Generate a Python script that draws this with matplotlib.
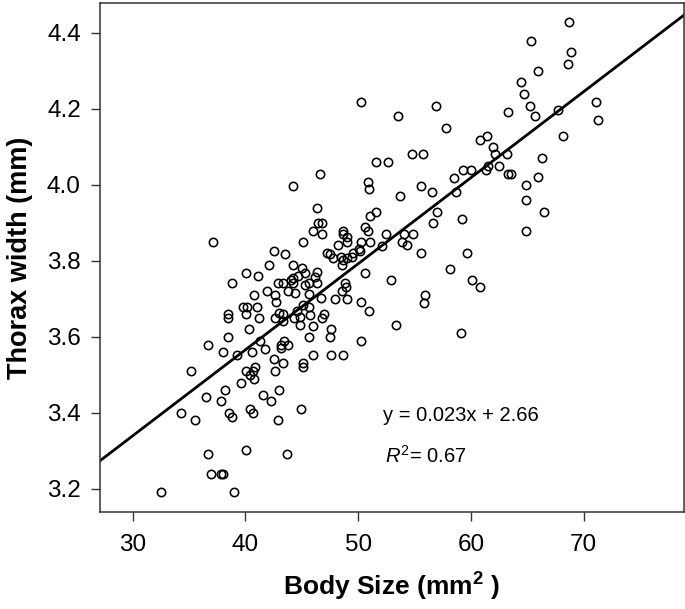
import matplotlib
matplotlib.use("Agg")
import matplotlib.pyplot as plt

plt.rcParams['font.family'] = ['Liberation Sans', 'DejaVu Sans']
plt.rcParams['mathtext.fontset'] = 'custom'
plt.rcParams['mathtext.rm'] = 'Liberation Sans'
plt.rcParams['mathtext.it'] = 'Liberation Sans:italic'
plt.rcParams['mathtext.default'] = 'regular'

# body size (mm^2) vs thorax width (mm)
body_size = [
    68.70, 65.35, 68.85, 68.61, 65.95, 64.44, 64.68, 65.24, 63.29, 65.71,
    67.69, 71.06, 71.27, 68.14, 61.93, 62.13, 63.17, 62.46, 63.31, 63.52,
    66.27, 65.95, 64.91, 64.91, 66.50, 64.91,
    56.90, 53.53, 57.81, 60.80, 61.45, 54.80, 55.72, 61.51, 61.31, 59.32,
    60.00, 58.50, 53.71, 55.57, 56.55, 58.67, 57.02, 56.66, 59.18, 54.09,
    54.83, 53.86, 54.30, 55.60, 59.68,
    50.25, 51.55, 52.67, 46.59, 50.87, 50.96, 44.24, 46.35, 46.46, 46.82,
    45.99, 46.82, 45.08, 51.07, 51.55, 50.60, 50.87, 48.65, 48.68, 49.03,
    48.98, 50.25, 51.07, 48.18, 50.04, 52.49, 52.14,
    47.26, 47.50, 47.74, 48.47, 48.62, 48.54, 48.98, 49.42, 49.56, 50.16,
    45.02, 45.31, 46.32, 46.19, 46.32, 45.61, 45.25, 50.63, 52.91, 48.80,
    48.89, 48.59, 45.66, 46.67, 47.94, 48.98, 50.25, 50.98, 45.13, 45.66,
    44.84, 45.72, 46.76, 46.97, 45.96, 44.84, 47.59, 47.50, 45.66, 50.25,
    53.38, 45.99, 47.59, 48.62, 45.08, 45.08, 44.95,
    58.14, 60.12, 60.83, 55.92, 55.84, 59.09,
    44.19, 44.19, 44.24, 44.69, 42.89, 43.29, 44.04, 42.51, 43.53, 42.06,
    40.08, 41.11, 38.81, 41.94, 40.76, 42.65, 43.77, 44.39, 42.71, 39.76,
    40.11, 41.00, 38.43, 38.43, 40.08, 41.17, 42.65, 42.95, 43.36, 43.36,
    44.31, 44.55, 40.31, 38.43, 41.29, 36.70, 43.42, 43.13, 43.13, 43.80,
    41.71, 37.98, 39.25, 40.55, 42.51, 43.30, 35.20, 40.08, 40.64, 40.87,
    40.40, 40.76, 42.65, 39.61, 38.21, 36.47, 37.86, 41.56, 42.27, 42.98,
    34.26, 38.54, 38.81, 40.40, 40.64, 35.55, 42.86, 36.70, 40.08, 43.66,
    36.94, 37.86, 37.98, 32.51, 39.01, 37.15,
]
thorax_width = [
    4.428, 4.380, 4.349, 4.318, 4.301, 4.270, 4.239, 4.208, 4.191, 4.181,
    4.198, 4.219, 4.171, 4.129, 4.099, 4.081, 4.081, 4.050, 4.029, 4.029,
    4.071, 4.020, 4.000, 3.960, 3.929, 3.878,
    4.209, 4.181, 4.149, 4.118, 4.129, 4.081, 4.081, 4.050, 4.039, 4.039,
    4.039, 4.019, 3.971, 3.998, 3.982, 3.981, 3.930, 3.899, 3.910, 3.871,
    3.871, 3.850, 3.841, 3.820, 3.820,
    4.219, 4.060, 4.060, 4.029, 4.008, 3.988, 3.998, 3.939, 3.900, 3.900,
    3.878, 3.872, 3.851, 3.919, 3.930, 3.888, 3.878, 3.878, 3.871, 3.863,
    3.850, 3.851, 3.851, 3.841, 3.831, 3.871, 3.840,
    3.821, 3.818, 3.808, 3.809, 3.802, 3.789, 3.807, 3.809, 3.821, 3.827,
    3.782, 3.769, 3.770, 3.757, 3.743, 3.741, 3.736, 3.769, 3.751, 3.742,
    3.730, 3.721, 3.712, 3.703, 3.699, 3.699, 3.691, 3.668, 3.684, 3.678,
    3.653, 3.657, 3.650, 3.659, 3.629, 3.631, 3.620, 3.600, 3.600, 3.589,
    3.631, 3.551, 3.551, 3.551, 3.530, 3.521, 3.410,
    3.778, 3.751, 3.730, 3.710, 3.690, 3.610,
    3.789, 3.756, 3.743, 3.761, 3.741, 3.741, 3.749, 3.827, 3.818, 3.788,
    3.768, 3.761, 3.741, 3.720, 3.710, 3.710, 3.720, 3.716, 3.692, 3.679,
    3.679, 3.679, 3.659, 3.651, 3.659, 3.651, 3.651, 3.664, 3.659, 3.641,
    3.651, 3.668, 3.620, 3.599, 3.590, 3.579, 3.590, 3.579, 3.570, 3.579,
    3.568, 3.559, 3.551, 3.559, 3.541, 3.531, 3.511, 3.511, 3.511, 3.521,
    3.499, 3.489, 3.511, 3.479, 3.459, 3.441, 3.431, 3.448, 3.431, 3.459,
    3.400, 3.400, 3.389, 3.410, 3.400, 3.380, 3.380, 3.291, 3.301, 3.291,
    3.238, 3.238, 3.238, 3.191, 3.191, 3.850,
]

# fitted line
slope = 0.02265
intercept = 2.66

x_ticks = [30, 40, 50, 60, 70]
y_ticks = [3.2, 3.4, 3.6, 3.8, 4.0, 4.2, 4.4]

fig = plt.figure(figsize=(6.85, 6.09), dpi=100)
ax = fig.add_axes([0.1453, 0.1593, 0.8532, 0.8358])

ax.plot(body_size, thorax_width, 'o', ls='none', mfc='none', mec='black',
        ms=6.0, mew=1.15)
ax.axline((0, intercept), slope=slope, color='black', lw=2.0)

ax.set_xlim(27.06, 78.9)
ax.set_ylim(3.139, 4.479)
ax.set_xticks(x_ticks)
ax.set_yticks(y_ticks)
ax.set_yticklabels([f'{v:.1f}' for v in y_ticks])

for s in ax.spines.values():
    s.set_color('#333333')
    s.set_linewidth(1.1)
ax.tick_params(axis='both', direction='out', length=6.5, width=1.0,
               color='#333333', labelsize=17.5, pad=7)
ax.tick_params(axis='x', pad=9)

ax.set_xlabel('Body Size (mm$^{2}$ )', fontsize=19, fontweight='bold', labelpad=11)
ax.set_ylabel('Thorax width (mm)', fontsize=19.5, fontweight='bold', labelpad=10)

ax.text(52.2, 3.394, 'y = 0.023x + 2.66', fontsize=14.5, ha='left', va='center')
ax.text(52.4, 3.288, r'$\mathit{R}^{2}$= 0.67', fontsize=14.5, ha='left', va='center')

plt.savefig('out.png', dpi=100)
